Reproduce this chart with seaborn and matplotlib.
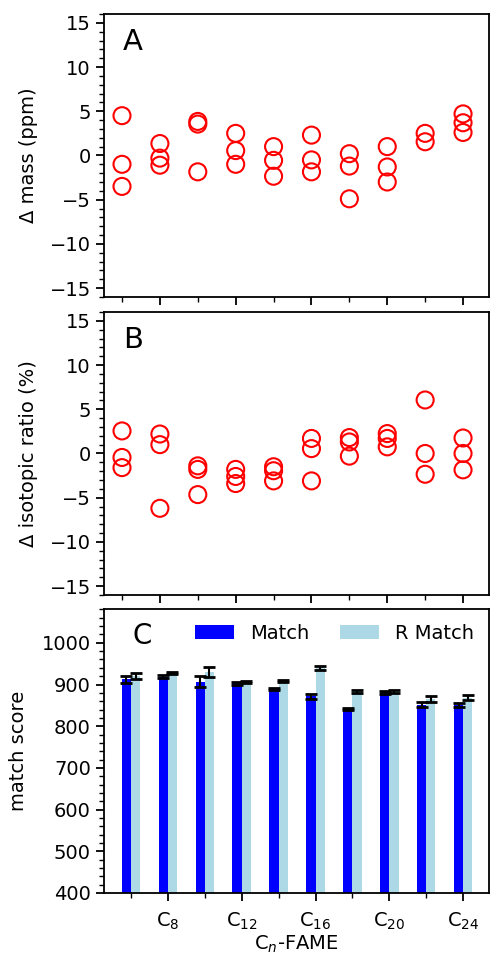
import numpy as np
import pandas as pd
import matplotlib
matplotlib.use('Agg')
import matplotlib.pyplot as plt
from matplotlib.ticker import MultipleLocator, FixedLocator
import seaborn as sns

sns.set_style('ticks')
plt.rcParams['font.family'] = ['DejaVu Sans']
plt.rcParams['font.size'] = 14
plt.rcParams['axes.linewidth'] = 1.3
for key in ['text.color', 'axes.labelcolor', 'xtick.color', 'ytick.color',
            'axes.edgecolor']:
    plt.rcParams[key] = 'black'

# ---------------------------------------------------------------
# Datos
# ---------------------------------------------------------------
carbons = [6, 8, 10, 12, 14, 16, 18, 20, 22, 24]

mass_ppm = [
    [4.5, -1.0, -3.5],
    [1.35, -0.3, -1.1],
    [3.85, 3.55, -1.85],
    [2.5, 0.55, -1.0],
    [1.0, -0.55, -2.35],
    [2.3, -0.5, -1.85],
    [0.2, -1.2, -4.9],
    [1.0, -1.3, -3.0],
    [2.5, 1.55],
    [4.7, 3.7, 2.6],
]

iso_ratio = [
    [2.55, -0.45, -1.6],
    [2.2, 1.0, -6.2],
    [-1.4, -1.8, -4.65],
    [-1.8, -2.6, -3.4],
    [-1.5, -1.95, -3.1],
    [1.7, 0.55, -3.1],
    [1.8, 1.3, -0.3],
    [2.25, 1.7, 0.75],
    [6.05, 0.0, -2.35],
    [1.75, 0.0, -1.85],
]

match_mean = [912, 919, 907, 903, 889, 872, 841, 881, 851, 851]
match_err = [9, 3, 13, 3, 2, 6, 3, 3, 6, 5]
rmatch_mean = [920, 927, 929, 906, 909, 940, 884, 883, 866, 868]
rmatch_err = [7, 2, 12, 3, 2, 5, 4, 3, 7, 6]

major_labels = ['C$_{8}$', 'C$_{12}$', 'C$_{16}$', 'C$_{20}$', 'C$_{24}$']


def long_form(values):
    rows = [(c, v) for c, col in zip(carbons, values) for v in col]
    return pd.DataFrame(rows, columns=['carbon', 'value'])


df_mass = long_form(mass_ppm)
df_iso = long_form(iso_ratio)
df_score = pd.DataFrame({
    'carbon': carbons * 2,
    'score': match_mean + rmatch_mean,
    'tipo': ['Match'] * len(carbons) + ['R Match'] * len(carbons),
})

# ---------------------------------------------------------------
# Figura
# ---------------------------------------------------------------
fig = plt.figure(figsize=(4.92, 9.57), dpi=100)
ax_a = fig.add_axes([0.2114, 0.6897, 0.7825, 0.2957])
ax_b = fig.add_axes([0.2114, 0.3783, 0.7825, 0.2957])
ax_c = fig.add_axes([0.2114, 0.0669, 0.7825, 0.2967])


def scatter_panel(ax, df, ylabel, letter):
    sns.scatterplot(data=df, x='carbon', y='value', ax=ax, marker='o',
                    s=150, fc='none', ec='red', linewidth=1.5, legend=False)
    ax.set_xlim(5.05, 25.37)
    ax.set_ylim(-16, 16)
    ax.set_yticks([-15, -10, -5, 0, 5, 10, 15])
    ax.yaxis.set_minor_locator(MultipleLocator(1))
    ax.xaxis.set_major_locator(FixedLocator([8, 12, 16, 20, 24]))
    ax.xaxis.set_minor_locator(FixedLocator([6, 10, 14, 18, 22]))
    ax.tick_params(axis='x', labelbottom=False)
    ax.set_xlabel('')
    ax.set_ylabel(ylabel, labelpad=8)
    ax.text(0.05, 0.95, letter, transform=ax.transAxes, fontsize=21,
            va='top', ha='left')


for ax in (ax_a, ax_b, ax_c):
    ax.tick_params(which='major', length=6, width=1.3)
    ax.tick_params(which='minor', length=3.5, width=1.0)
    for s in ax.spines.values():
        s.set_visible(True)

scatter_panel(ax_a, df_mass, 'Δ mass (ppm)', 'A')
scatter_panel(ax_b, df_iso, 'Δ isotopic ratio (%)', 'B')

# Panel C: barras con error
sns.barplot(data=df_score, x='carbon', y='score', hue='tipo', ax=ax_c,
            native_scale=True, width=0.5, errorbar=None, linewidth=0,
            palette={'Match': '#0000ff', 'R Match': '#add8e6'},
            saturation=1)
ax_c.errorbar(np.array(carbons) - 0.25, match_mean, yerr=match_err,
              fmt='none', ecolor='black', elinewidth=1.5, capsize=4, capthick=2)
ax_c.errorbar(np.array(carbons) + 0.25, rmatch_mean, yerr=rmatch_err,
              fmt='none', ecolor='black', elinewidth=1.5, capsize=4, capthick=2)
ax_c.set_xlim(4.54, 25.4)
ax_c.set_ylim(400, 1081)
ax_c.set_yticks([400, 500, 600, 700, 800, 900, 1000])
ax_c.yaxis.set_minor_locator(MultipleLocator(20))
ax_c.xaxis.set_major_locator(FixedLocator([8, 12, 16, 20, 24]))
ax_c.xaxis.set_minor_locator(FixedLocator([6, 10, 14, 18, 22]))
ax_c.set_xticklabels(major_labels)
ax_c.tick_params(axis='x', which='major', pad=7)
ax_c.set_xlabel('C$_{n}$-FAME', labelpad=1)
ax_c.set_ylabel('match score', labelpad=10)
ax_c.text(0.073, 0.955, 'C', transform=ax_c.transAxes, fontsize=20,
          va='top', ha='left')
sns.move_legend(ax_c, loc='center left', bbox_to_anchor=(0.192, 0.915),
                ncol=2, frameon=False, title=None, fontsize=14,
                handlelength=2.0, columnspacing=1.6)

plt.savefig('out.png', dpi=100)
plt.close()
